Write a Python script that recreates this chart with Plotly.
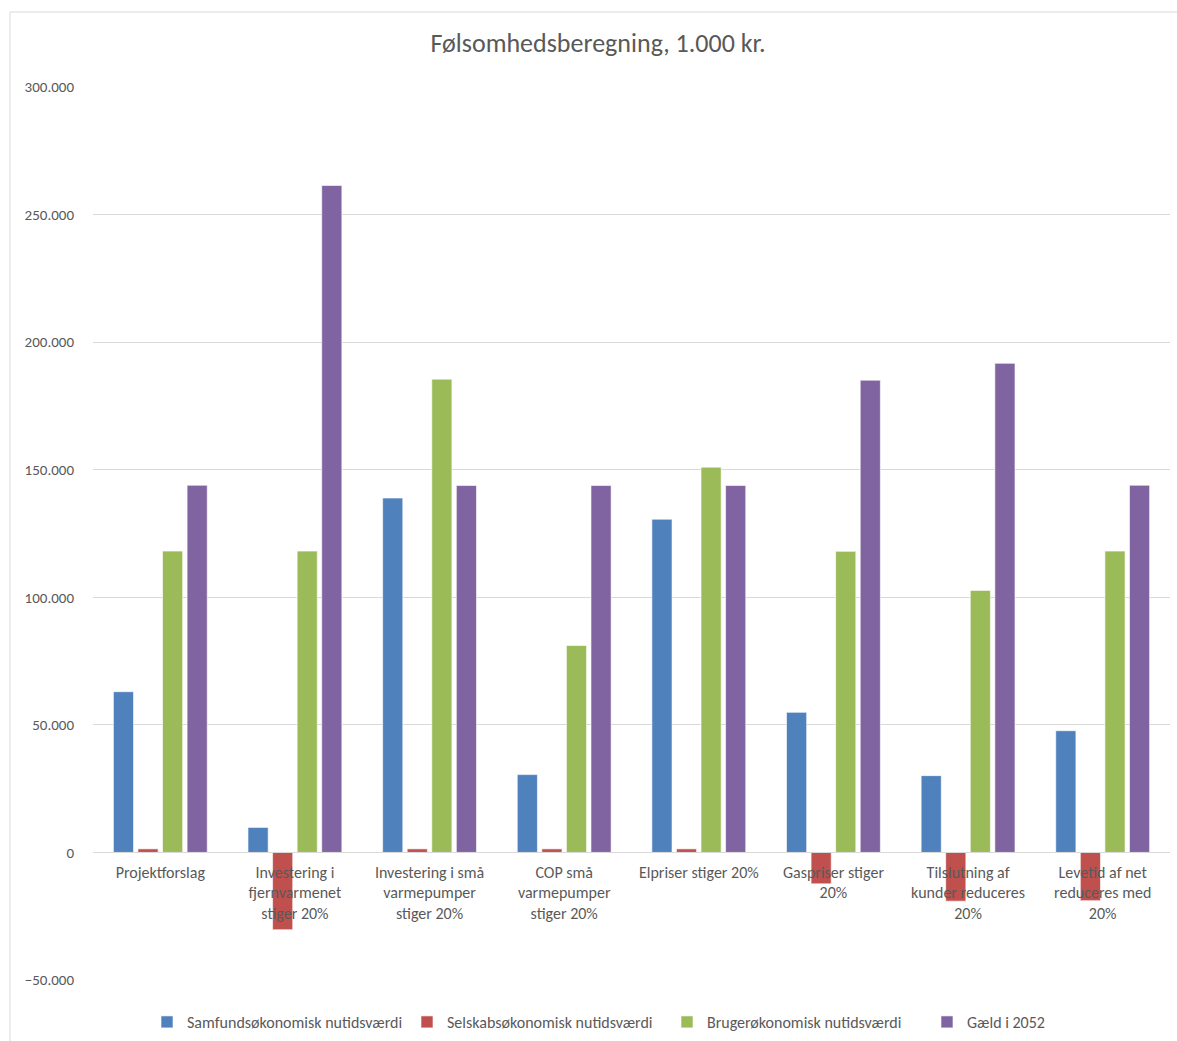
import plotly.graph_objects as go

categories = [
    "Projektforslag",
    "Investering i<br>fjernvarmenet<br>stiger 20%",
    "Investering i små<br>varmepumper<br>stiger 20%",
    "COP små<br>varmepumper<br>stiger 20%",
    "Elpriser stiger 20%",
    "Gaspriser stiger<br>20%",
    "Tilslutning af<br>kunder reduceres<br>20%",
    "Levetid af net<br>reduceres med<br>20%",
]

samfund = [63000, 9800, 138900, 30500, 130600, 54900, 30100, 47700]
selskab = [1400, -30300, 1400, 1400, 1400, -12300, -19100, -18900]
bruger = [118100, 118100, 185500, 81100, 151000, 118000, 102700, 118100]
gaeld = [143900, 261400, 143800, 143800, 143800, 185100, 191700, 143900]

series_names = [
    "Samfundsøkonomisk nutidsværdi",
    "Selskabsøkonomisk nutidsværdi",
    "Brugerøkonomisk nutidsværdi",
    "Gæld i 2052",
]
colors = ["#4F81BD", "#C0504D", "#9BBB59", "#8064A2"]

y_min, y_max = -50000, 300000

FONT = "Carlito, Lato, 'Open Sans', sans-serif"
TXT = "#595959"

fig = go.Figure()
for name, vals, col in zip(series_names, [samfund, selskab, bruger, gaeld], colors):
    fig.add_trace(go.Bar(
        x=categories, y=vals, name=name,
        marker=dict(color=col, line=dict(color="rgba(255,255,255,0.6)", width=1)),
        hoverinfo="skip",
    ))

W, H = 1177, 1041
ml, mr, mt, mb = 93, 7, 87, 61
plot_w = W - ml - mr
plot_h = H - mt - mb
zero_pos = (0 - y_min) / (y_max - y_min)

fig.update_layout(
    width=W, height=H,
    margin=dict(l=ml, r=mr, t=mt, b=mb, autoexpand=False),
    paper_bgcolor="white", plot_bgcolor="white",
    separators=",.",
    barmode="group", bargap=0.27, bargroupgap=0.18,
    font=dict(family=FONT, color=TXT, size=14),
    title=dict(
        text="Følsomhedsberegning, 1.000 kr.",
        x=(598 - ml) / plot_w, xref="paper", xanchor="center",
        y=1 - 43 / H, yref="container", yanchor="middle",
        font=dict(family=FONT, size=26, color=TXT),
    ),
    showlegend=True,
    legend=dict(
        orientation="h", x=(667 - ml) / plot_w, xanchor="center",
        y=-(1022 - (H - mb)) / plot_h, yanchor="middle",
        font=dict(family=FONT, size=16, color=TXT),
        itemwidth=30, tracegroupgap=0, entrywidth=215,
    ),
    xaxis=dict(
        anchor="free", position=zero_pos,
        showline=True, linecolor="#d9d9d9", linewidth=1,
        showgrid=False, ticks="", ticklabelstandoff=5,
        tickfont=dict(family=FONT, size=16, color=TXT),
    ),
    yaxis=dict(
        range=[y_min, y_max], dtick=50000, tickformat=",d",
        showgrid=True, gridcolor="#d9d9d9", gridwidth=1,
        zeroline=False, showline=False, ticks="",
        ticklabelstandoff=18,
        tickfont=dict(family=FONT, size=15, color=TXT),
    ),
    shapes=[
        dict(type="line", xref="paper", yref="paper",
             x0=(10 - ml) / plot_w, x1=(10 - ml) / plot_w,
             y0=1 + (mt - 12) / plot_h, y1=-(mb + 20) / plot_h,
             line=dict(color="#d9d9d9", width=1)),
        dict(type="line", xref="paper", yref="paper",
             x0=(10 - ml) / plot_w, x1=1 + 20 / plot_w,
             y0=1 + (mt - 12) / plot_h, y1=1 + (mt - 12) / plot_h,
             line=dict(color="#d9d9d9", width=1)),
    ],
)

fig.write_html("out.html")
